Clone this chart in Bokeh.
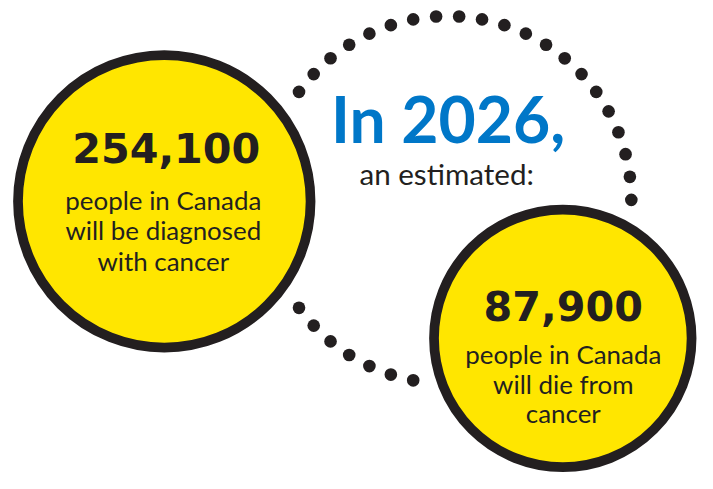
import numpy as np
from bokeh.plotting import figure
from bokeh.models import Range1d
from bokeh.core.properties import value
from bokeh.embed import file_html
from bokeh.resources import INLINE

# ---- data ----
year = "2026"
stat_values = [254100, 87900]
stat_lines = [
    ["people in Canada", "will be diagnosed", "with cancer"],
    ["people in Canada", "will die from", "cancer"],
]
headline = f"In {year},"
subhead = "an estimated:"

# ---- style / layout ----
YELLOW = "#FFE600"
DARK = "#231F20"
BLUE = "#0077C8"
S = 0.972          # screen px per data unit
W, H = 697, 473
x0, y0 = -3.0, 2.9

p = figure(width=W, height=H, output_backend="svg", toolbar_location=None,
           x_range=Range1d(x0, x0 + W / S), y_range=Range1d(y0 + H / S, y0),
           min_border=0, outline_line_color=None, background_fill_color="white",
           border_fill_color="white")
p.axis.visible = False
p.grid.visible = False

K_LATO, K_DEJAVU = 0.387, 0.346  # baseline correction (em)


def put(x, y_base, texts, font, size, bold, color, k):
    ys = [yb - k * size for yb in y_base]
    p.text(x=x, y=ys, text=texts, text_align="center",
           text_baseline="alphabetic", text_font=value(font),
           text_font_style="bold" if bold else "normal",
           text_font_size=f"{size * S:.1f}px", text_color=color)


# dotted connecting ring (decoration)
cx, cy, cr = 457.0, 208.0, 189.0
step = 7.2
idx = list(range(14, 21)) + list(range(30, 51))
ang = np.deg2rad(np.array(idx) * step)
p.circle(x=cx + cr * np.cos(ang), y=cy + cr * np.sin(ang), radius=6.5,
         fill_color=DARK, line_color=None)

# circles
centers_x = [165.5, 575.5]
centers_y = [209.5, 350.5]
radii = [150.5, 132.5]
p.circle(x=centers_x, y=centers_y, radius=radii, fill_color=YELLOW,
         line_color=DARK, line_width=10 * S)

# numbers
put([167.5, 576], [169, 332], [f"{v:,}" for v in stat_values],
    "DejaVu Sans", 42.5, True, DARK, K_DEJAVU)

# descriptions
line_gap = [31.5, 30.5]
first_base = [218, 377]
desc_x = [164.5, 576]
tx, ty, tt = [], [], []
for i, lines in enumerate(stat_lines):
    for j, ln in enumerate(lines):
        tx.append(desc_x[i])
        ty.append(first_base[i] + j * line_gap[i])
        tt.append(ln)
put(tx, ty, tt, "Lato", 26.6, False, DARK, K_LATO)

# headline
put([457.5], [150], [headline], "Lato", 66, True, BLUE, K_LATO)
put([456], [193], [subhead], "Lato", 30.5, False, DARK, K_LATO)

open("out.html", "w").write(file_html(p, INLINE))
